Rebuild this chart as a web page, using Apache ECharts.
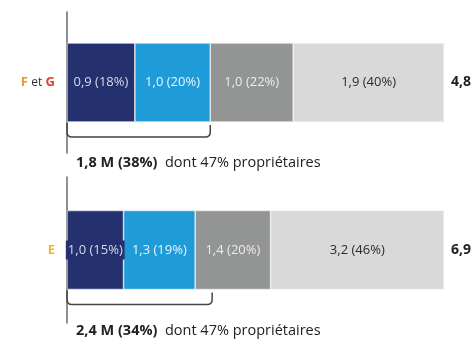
<!DOCTYPE html>
<html>
<head>
<meta charset="utf-8">
<script src="https://cdn.jsdelivr.net/npm/echarts@6/dist/echarts.min.js"></script>
<style>
  html, body { margin: 0; padding: 0; background: #fff; }
  #chart { width: 472px; height: 342px; }
</style>
</head>
<body>
<div id="chart"></div>
<script>
const categories = ['F et G', 'E'];
// millions de logements par segment
const millions = [
    [0.9, 1.0, 1.0, 1.9],
    [1.0, 1.3, 1.4, 3.2]
];
// part en %
const shares = [
    [18, 20, 22, 40],
    [15, 19, 20, 46]
];
const totals = [4.8, 6.9];
const subTotal = [1.8, 2.4];
const subShare = [38, 34];
const ownerShare = [47, 47];
const braceEnd = [38, 38.5];

const segColors = ['#25316f', '#1f9bd8', '#939494', '#d9d9d9'];
const labelColors = ['#d6d9e6', '#eaf4fb', '#ececec', '#2b2b2b'];
const FONT = 'Open Sans';
const BAR_W = 79;

const fmt = v => v.toFixed(1).replace('.', ',');

const myChart = echarts.init(document.getElementById('chart'));

const grids = [
    { left: 67, right: 28, top: 12, height: 141 },
    { left: 67, right: 28, top: 177, height: 146 }
];

const xAxes = [];
const yAxes = [];
const series = [];

categories.forEach((cat, i) => {
    xAxes.push({ gridIndex: i, type: 'value', min: 0, max: 100, show: false });
    yAxes.push({
        gridIndex: i,
        type: 'category',
        data: [cat],
        axisLine: { show: true, lineStyle: { color: '#6b6b6b', width: 1.5 } },
        axisTick: { show: false },
        axisLabel: {
            margin: 12,
            formatter: function (v) {
                if (v === 'F et G') return '{f|F} {et|et} {g|G}';
                return '{e|' + v + '}';
            },
            rich: {
                f: { color: '#f39325', fontWeight: 'bold', fontSize: 13, fontFamily: FONT },
                et: { color: '#333', fontSize: 12, fontFamily: FONT },
                g: { color: '#d9412b', fontWeight: 'bold', fontSize: 13, fontFamily: FONT },
                e: { color: '#f5b335', fontWeight: 'bold', fontSize: 13, fontFamily: FONT }
            }
        }
    });

    shares[i].forEach((p, j) => {
        const label = {
            show: true,
            position: 'inside',
            color: labelColors[j],
            fontSize: 13,
            fontFamily: FONT,
            formatter: fmt(millions[i][j]) + ' (' + p + '%)'
        };
        if (j === 0) {
            label.backgroundColor = segColors[0];
            label.padding = [3, 2];
        }
        series.push({
            type: 'bar',
            stack: 'g' + i,
            xAxisIndex: i,
            yAxisIndex: i,
            barWidth: BAR_W,
            data: [p],
            itemStyle: { color: segColors[j], borderColor: '#f4f4f4', borderWidth: 0.6 },
            label: label,
            silent: true
        });
    });

    // accolade + texte sous la barre, total a droite
    series.push({
        type: 'custom',
        xAxisIndex: i,
        yAxisIndex: i,
        clip: false,
        silent: true,
        z: 5,
        data: [[braceEnd[i], 0]],
        renderItem: function (params, api) {
            const c0 = api.coord([0, 0]);
            const x0 = c0[0];
            const yc = c0[1];
            const x1 = api.coord([braceEnd[i], 0])[0];
            const xEnd = api.coord([100, 0])[0];
            const yb = yc + BAR_W / 2;
            const yTop = yb + 1, yBot = yb + 15, r = 5;
            const d = 'M' + x0 + ' ' + yTop + ' L' + x0 + ' ' + (yBot - r) +
                ' Q' + x0 + ' ' + yBot + ' ' + (x0 + r) + ' ' + yBot +
                ' L' + (x1 - r) + ' ' + yBot +
                ' Q' + x1 + ' ' + yBot + ' ' + x1 + ' ' + (yBot - r) +
                ' L' + x1 + ' ' + (yTop + 2);
            return {
                type: 'group',
                children: [
                    {
                        type: 'path',
                        shape: { pathData: d },
                        style: { fill: null, stroke: '#444', lineWidth: 1.5 }
                    },
                    {
                        type: 'text',
                        style: {
                            x: x0 + 9,
                            y: yb + 41,
                            text: '{b|' + fmt(subTotal[i]) + ' M (' + subShare[i] + '%)}  dont ' + ownerShare[i] + '% propriétaires',
                            fontSize: 14.5,
                            fontFamily: FONT,
                            fill: '#222',
                            verticalAlign: 'middle',
                            rich: {
                                b: { fontWeight: 'bold', fontSize: 14.5, fontFamily: FONT, color: '#222' }
                            }
                        }
                    },
                    {
                        type: 'text',
                        style: {
                            x: xEnd + 7,
                            y: yc,
                            text: fmt(totals[i]),
                            fontSize: 14,
                            fontWeight: 'bold',
                            fontFamily: FONT,
                            fill: '#222',
                            verticalAlign: 'middle'
                        }
                    }
                ]
            };
        }
    });
});

myChart.setOption({
    animation: false,
    grid: grids,
    xAxis: xAxes,
    yAxis: yAxes,
    series: series
});

window.addEventListener('resize', function () {
    myChart.resize();
});
</script>
</body>
</html>
